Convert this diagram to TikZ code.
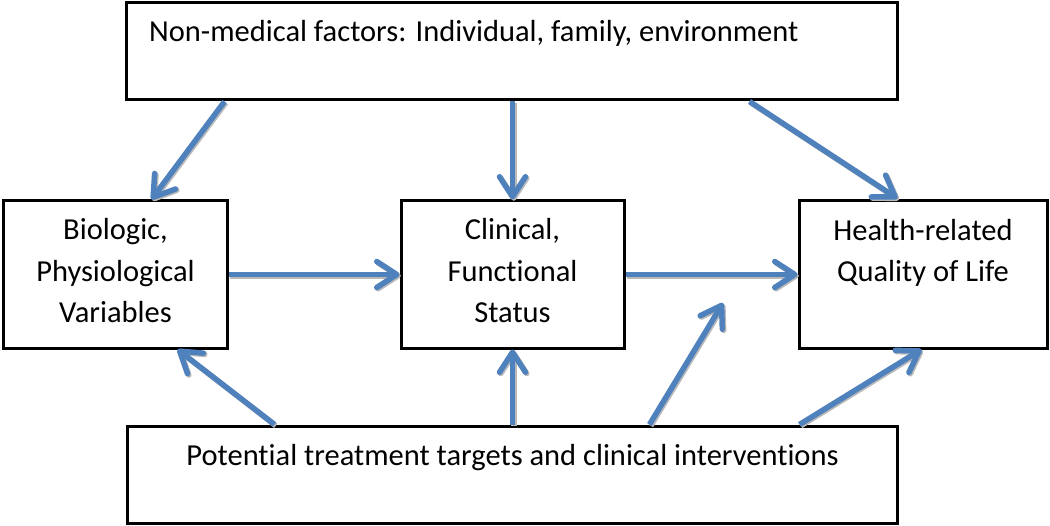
\documentclass[tikz,border=0pt]{standalone}
\usepackage{fontspec}
\setmainfont[Ligatures={NoCommon}]{Carlito}
\usetikzlibrary{arrows.meta,calc}
\definecolor{arrowblue}{HTML}{4F81BD}
\tikzset{
  box/.style={draw=black, line width=3bp, fill=white, inner sep=0pt, rectangle},
  lbl/.style={font=\fontsize{30.5bp}{41.5bp}\selectfont, align=center, inner sep=0pt},
  conn/.style={draw=arrowblue, line width=5.5bp,
    -{Straight Barb[length=20bp, width=26bp, line width=5.5bp, round]},
    preaction={draw=gray!55, line width=5.5bp, transform canvas={shift={(1.3,1.3)}}}},
}
\begin{document}
\begin{tikzpicture}[x=1bp, y=-1bp]
\useasboundingbox (0,0) rectangle (1050,526);
% boxes
\node[box, minimum width=770bp, minimum height=97bp] (top) at (512,51.5) {};
\node[box, minimum width=223bp, minimum height=147bp] (bio) at (115.5,274.5) {};
\node[box, minimum width=223bp, minimum height=147bp] (clin) at (512.5,274.5) {};
\node[box, minimum width=248bp, minimum height=147bp] (hrql) at (923,274.5) {};
\node[box, minimum width=769bp, minimum height=97bp] (bot) at (512.5,474.5) {};
% texts (base anchor = last line)
\node[lbl, anchor=base west] (toptext) at (149,42) {Non-medical factors: Individual, family, environment};
\node[lbl, anchor=base] (biotext) at (115.5,323) {Biologic,\\Physiological\\Variables};
\node[lbl, anchor=base] (clintext) at (512.5,323) {Clinical,\\Functional\\Status};
\node[lbl, anchor=base] (hrqltext) at (923,282) {Health-related\\Quality of Life};
\node[lbl, anchor=base] (bottext) at (512.5,465) {Potential treatment targets and clinical interventions};
% free end of one connector
\coordinate (mid) at (723,303);
% connectors
\draw[conn] ($(top.south west)+(99,0)$) -- ($(bio.north west)+(149,0)$);
\draw[conn] (top.south -| clin.north) -- (clin.north);
\draw[conn] ($(top.south west)+(624,0)$) -- ($(hrql.north west)+(100,-1)$);
\draw[conn] (bio.east) -- (clin.west);
\draw[conn] (clin.east) -- (hrql.west);
\draw[conn] ($(bot.north west)+(148,0)$) -- ($(bio.south west)+(175,0)$);
\draw[conn] (bot.north -| clin.south) -- (clin.south);
\draw[conn] ($(bot.north west)+(523,0)$) -- (mid);
\draw[conn] ($(bot.north west)+(673,0)$) -- ($(hrql.south west)+(124,0)$);
\end{tikzpicture}
\end{document}
